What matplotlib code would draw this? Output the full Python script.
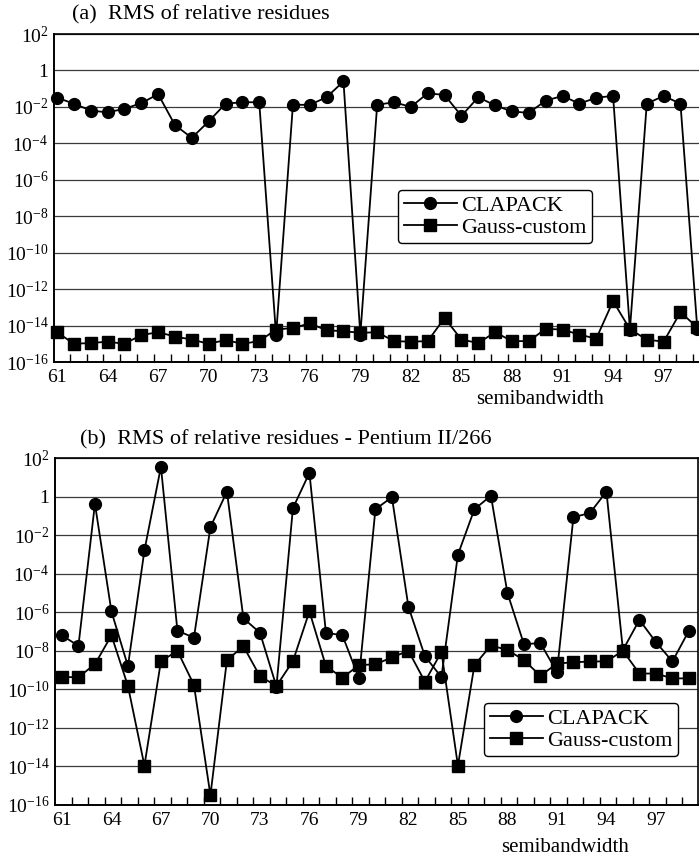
import matplotlib
matplotlib.use("Agg")
import matplotlib.pyplot as plt
import numpy as np

plt.rcParams['font.family'] = ['Liberation Serif', 'DejaVu Serif']
plt.rcParams['mathtext.fontset'] = 'custom'
plt.rcParams['mathtext.rm'] = 'Liberation Serif'
plt.rcParams['mathtext.it'] = 'Liberation Serif:italic'

semibandwidth = list(range(61, 100))
xtick_values = list(range(61, 100, 3))
ytick_exponents = list(range(2, -17, -2))

# Panel (a): RMS of relative residues
clapack_a = [3.2e-2, 1.5e-2, 6.3e-3, 5.0e-3, 7.9e-3, 1.6e-2, 5.0e-2, 1.0e-3, 2.0e-4, 1.6e-3,
             1.5e-2, 1.8e-2, 1.8e-2, 3.0e-15, 1.3e-2, 1.3e-2, 3.4e-2, 2.5e-1, 3.2e-15, 1.3e-2,
             1.8e-2, 1.0e-2, 5.6e-2, 4.5e-2, 3.2e-3, 3.4e-2, 1.2e-2, 5.6e-3, 4.7e-3, 2.2e-2,
             4.0e-2, 1.5e-2, 3.2e-2, 4.0e-2, 6.0e-15, 1.5e-2, 4.0e-2, 1.5e-2, 6.6e-15]
gauss_a = [4.3e-15, 1.0e-15, 1.1e-15, 1.3e-15, 1.0e-15, 3.0e-15, 4.3e-15, 2.5e-15, 1.7e-15, 1.0e-15,
           1.6e-15, 1.0e-15, 1.4e-15, 6.0e-15, 7.4e-15, 1.3e-14, 5.5e-15, 4.9e-15, 4.0e-15, 4.3e-15,
           1.4e-15, 1.3e-15, 1.4e-15, 2.6e-14, 1.7e-15, 1.1e-15, 4.3e-15, 1.4e-15, 1.4e-15, 6.6e-15,
           6.0e-15, 3.2e-15, 1.9e-15, 2.2e-13, 6.3e-15, 1.7e-15, 1.3e-15, 5.4e-14, 7.9e-15]

# Panel (b): RMS of relative residues - Pentium II/266
clapack_b = [6.3e-8, 1.8e-8, 4.2e-1, 1.1e-6, 1.6e-9, 1.6e-3, 35.0, 1.1e-7, 4.8e-8, 2.6e-2,
             1.8, 4.8e-7, 8.7e-8, 1.4e-10, 2.5e-1, 17.0, 8.7e-8, 6.3e-8, 3.8e-10, 2.2e-1,
             9.3e-1, 1.9e-6, 5.2e-9, 4.3e-10, 9.8e-4, 2.2e-1, 1.1, 1.0e-5, 2.2e-8, 2.5e-8,
             7.9e-10, 8.5e-2, 1.4e-1, 1.8, 1.1e-8, 4.0e-7, 2.8e-8, 2.8e-9, 1.1e-7]
gauss_b = [4.3e-10, 4.3e-10, 2.0e-9, 6.3e-8, 1.5e-10, 1.1e-14, 2.9e-9, 9.8e-9, 1.7e-10, 3.2e-16,
           3.3e-9, 1.7e-8, 4.8e-10, 1.5e-10, 2.9e-9, 1.1e-6, 1.6e-9, 4.0e-10, 1.8e-9, 2.0e-9,
           4.5e-9, 1.0e-8, 2.5e-10, 8.7e-9, 1.1e-14, 1.8e-9, 1.9e-8, 1.1e-8, 3.3e-9, 5.0e-10,
           2.2e-9, 2.5e-9, 2.8e-9, 2.8e-9, 1.0e-8, 6.6e-10, 6.6e-10, 3.7e-10, 3.7e-10]

W, H = 699, 859
fig = plt.figure(figsize=(W / 100, H / 100), dpi=100)


def fig_rect(l, t, r, b):
    return [l / W, 1 - b / H, (r - l) / W, (b - t) / H]


def ylabel(e):
    if e == 0:
        return '1'
    return r'$10^{%d}$' % e


def style_axes(ax, xlim, minor_off, show_right):
    ax.set_yscale('log')
    ax.set_ylim(1e-16, 1e2)
    ax.set_xlim(*xlim)
    ax.set_yticks([10.0 ** e for e in ytick_exponents])
    ax.set_yticklabels([ylabel(e) for e in ytick_exponents])
    ax.yaxis.set_minor_locator(matplotlib.ticker.NullLocator())
    ax.tick_params(axis='y', which='major', length=0, pad=4, labelsize=14)
    ax.set_xticks(xtick_values)
    ax.set_xticklabels([str(v) for v in xtick_values])
    ax.set_xticks([v + minor_off for v in semibandwidth[:-1]], minor=True)
    ax.tick_params(axis='x', which='major', length=0, pad=5, labelsize=14)
    ax.tick_params(axis='x', which='minor', direction='in', length=6, width=1.0, color='black')
    ax.grid(True, axis='y', which='major', color='#3a3a3a', lw=0.9)
    ax.set_axisbelow(True)
    for s in ['left', 'bottom']:
        ax.spines[s].set_linewidth(1.4)
    ax.spines['top'].set_linewidth(1.2)
    ax.spines['right'].set_visible(show_right)
    ax.spines['right'].set_linewidth(1.2)


line_kw = dict(color='black', lw=1.3, clip_on=False, zorder=3)
leg_kw = dict(borderaxespad=0, fontsize=16, handlelength=2.4, handletextpad=0.2,
              labelspacing=0.05, borderpad=0.25, frameon=True, fancybox=True,
              framealpha=1)

# ---- Panel (a)
ax1 = fig.add_axes(fig_rect(54, 34, 699, 362))
style_axes(ax1, (60.82, 99.1), 0.75, False)
ax1.plot(semibandwidth, clapack_a, marker='o', ms=8.5, label='CLAPACK', **line_kw)
ax1.plot(semibandwidth, gauss_a, marker='s', ms=8.5, label='Gauss-custom', **line_kw)
fig.text(72 / W, 1 - 15 / H, '(a)  RMS of relative residues', fontsize=16,
         ha='left', va='center')
fig.text(540 / W, 1 - 399 / H, 'semibandwidth', fontsize=15, ha='center', va='center')
leg1 = ax1.legend(loc='upper left', bbox_to_anchor=(398 / W, 1 - 190 / H),
                  bbox_transform=fig.transFigure, **leg_kw)
leg1.get_frame().set_edgecolor('black')
leg1.get_frame().set_linewidth(1.0)

# ---- Panel (b)
ax2 = fig.add_axes(fig_rect(55, 458, 698, 805))
style_axes(ax2, (60.58, 99.55), 0.6, True)
ax2.plot(semibandwidth, clapack_b, marker='o', ms=8.5, label='CLAPACK', **line_kw)
ax2.plot(semibandwidth, gauss_b, marker='s', ms=8.5, label='Gauss-custom', **line_kw)
fig.text(80 / W, 1 - 440 / H, '(b)  RMS of relative residues - Pentium II/266', fontsize=16,
         ha='left', va='center')
fig.text(565 / W, 1 - 847 / H, 'semibandwidth', fontsize=15, ha='center', va='center')
leg2 = ax2.legend(loc='upper left', bbox_to_anchor=(484 / W, 1 - 703 / H),
                  bbox_transform=fig.transFigure, **leg_kw)
leg2.get_frame().set_edgecolor('black')
leg2.get_frame().set_linewidth(1.0)

fig.savefig('out.png', dpi=100)
